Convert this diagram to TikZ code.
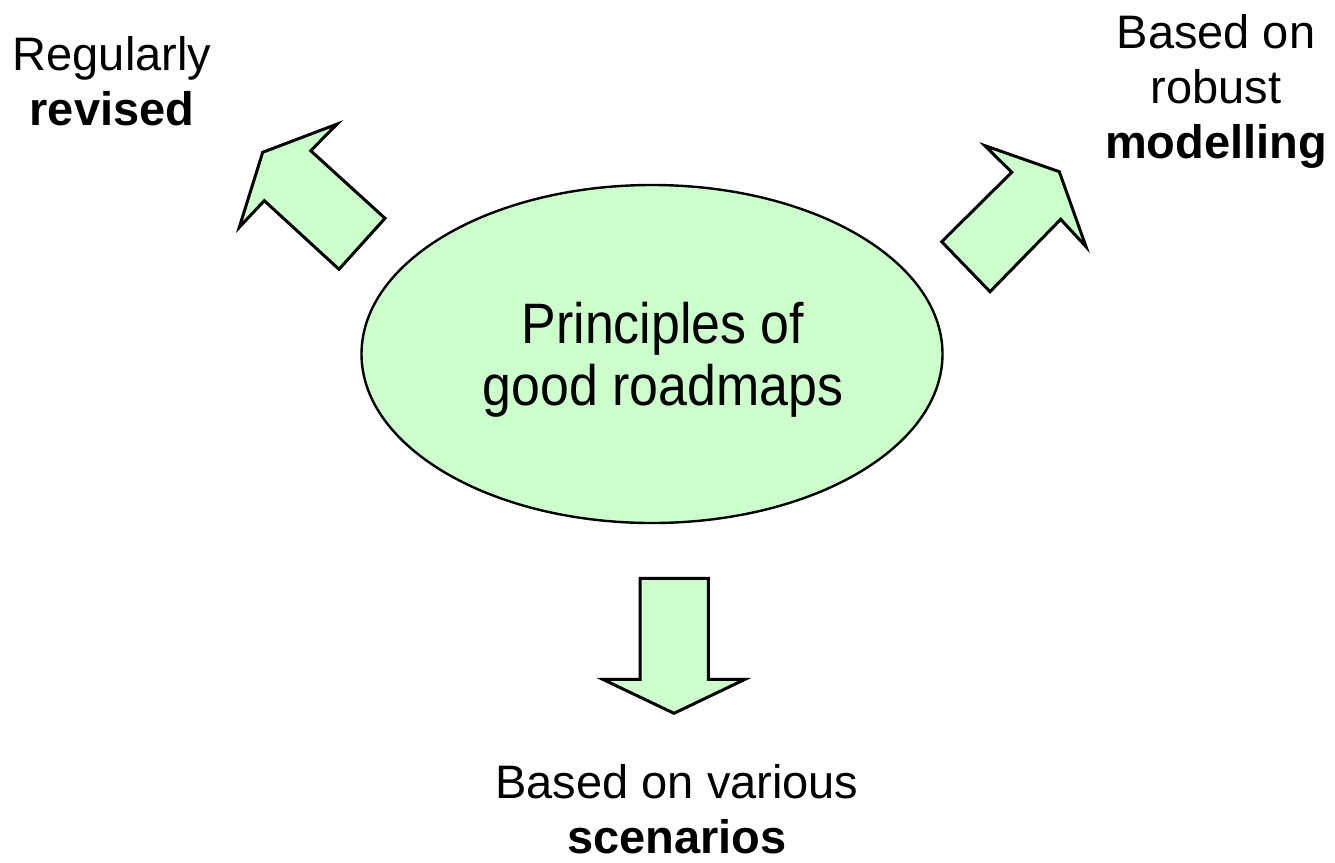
\documentclass[tikz,border=0pt]{standalone}
\usepackage{fontspec}
\setmainfont{Liberation Sans}
\usetikzlibrary{shapes.geometric}
\definecolor{leaf}{HTML}{CCFFCC}
\begin{document}
\begin{tikzpicture}[x=1pt,y=-1pt,
  blockarrow/.style={draw=black,fill=leaf,line width=3pt,line join=miter},
  hub/.style={ellipse,draw=black,fill=leaf,line width=2.4pt,
    minimum width=581pt,minimum height=338pt,inner sep=0pt},
  title/.style={inner sep=0pt,anchor=base,font=\fontsize{57}{62}\selectfont},
  label/.style={align=center,inner sep=0pt,anchor=base,
    font=\fontsize{47}{55}\selectfont}]
  \useasboundingbox (0,0) rectangle (1335,862);

  % central ellipse and its title
  \node[hub] (hub) at (652,354) {};
  \node[title] (hubtext) at (663,405)
    {\scalebox{0.91}[1]{\begin{tabular}[b]{@{}c@{}}Principles of\\good roadmaps\end{tabular}}};

  % block arrow pointing up-left
  \draw[blockarrow] (385,218.3) -- (310.7,150.7) -- (337.3,124) -- (262.7,152.3)
    -- (239.3,227.3) -- (264.3,200.7) -- (339,269.3) -- cycle;
  % block arrow pointing up-right
  \draw[blockarrow] (941.7,241.7) -- (1011.7,172.3) -- (985,145.7) -- (1059.3,171.7)
    -- (1086,246.7) -- (1060.7,219.3) -- (990,291.7) -- cycle;
  % block arrow pointing down
  \draw[blockarrow] (640,578.3) -- (708.3,578.3) -- (708.3,679.3) -- (745,679.3)
    -- (674,713.3) -- (602.7,679.3) -- (640,679.3) -- cycle;

  % labels (anchored at the baseline of their last line)
  \node[label] (revised) at (112,125) {Regularly\\\textbf{revised}};
  \node[label] (modelling) at (1216,158) {Based on\\robust\\\textbf{modelling}};
  \node[label] (scenarios) at (677,853) {Based on various\\\textbf{scenarios}};
\end{tikzpicture}
\end{document}
